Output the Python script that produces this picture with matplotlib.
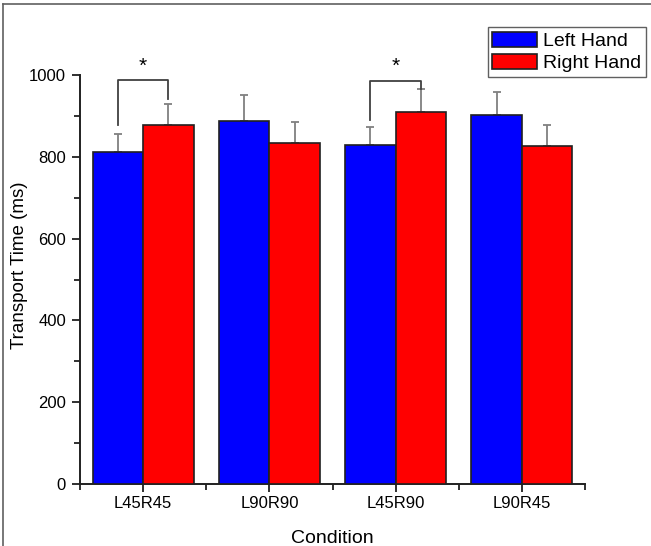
import numpy as np
import matplotlib
matplotlib.use("Agg")
import matplotlib.pyplot as plt
from matplotlib.lines import Line2D

plt.rcParams['font.family'] = ['Liberation Sans', 'DejaVu Sans']

conditions = ["L45R45", "L90R90", "L45R90", "L90R45"]
left_hand = [811, 888, 828, 901]
right_hand = [878, 834, 909, 826]
left_err = [44, 62, 44, 58]
right_err = [50, 51, 57, 51]
# significance brackets: (group index, top, left leg end, right leg end)
sig_pairs = [(0, 988, 878, 941), (2, 986, 890, 966)]

fig = plt.figure(figsize=(6.51, 5.46), dpi=100)
ax = fig.add_axes([80/651, 1-484/546, 505/651, 409/546])

x = np.arange(1, len(conditions)+1)
w = 0.4
ax.bar(x - w/2, left_hand, w, color="#0000ff", edgecolor="#202020", linewidth=1.2, label="Left Hand", zorder=3)
ax.bar(x + w/2, right_hand, w, color="#ff0000", edgecolor="#202020", linewidth=1.2, label="Right Hand", zorder=3)
ax.errorbar(x - w/2, left_hand, yerr=[np.zeros(4), left_err], fmt="none", ecolor="#808080",
            elinewidth=1.3, capsize=3, capthick=1.3, zorder=2)
ax.errorbar(x + w/2, right_hand, yerr=[np.zeros(4), right_err], fmt="none", ecolor="#808080",
            elinewidth=1.3, capsize=3, capthick=1.3, zorder=2)

for i, top, lbot, rbot in sig_pairs:
    xl, xr = x[i] - w/2, x[i] + w/2
    ax.plot([xl, xl, xr, xr], [lbot, top, top, rbot], color="#404040", lw=1.3, clip_on=False)
    ax.text(x[i], top + 34, "*", ha="center", va="center", fontsize=15, clip_on=False)

ax.set_xlim(0.5, 4.5)
ax.set_ylim(0, 1000)
ax.set_xticks(x)
ax.set_xticklabels(conditions)
ax.set_xticks([0.5, 1.5, 2.5, 3.5, 4.5], minor=True)
ax.set_yticks(np.arange(0, 1001, 200))
ax.set_yticks(np.arange(100, 1000, 200), minor=True)
ax.tick_params(axis="both", which="major", direction="out", length=6, width=1.3, labelsize=12,
               color="#202020")
ax.tick_params(axis="x", which="major", pad=3)
ax.tick_params(axis="y", which="major", pad=4)
ax.tick_params(axis="both", which="minor", direction="out", length=4, width=1.3, color="#202020")
for s in ["top", "right"]:
    ax.spines[s].set_visible(False)
for s in ["left", "bottom"]:
    ax.spines[s].set_linewidth(1.4)
    ax.spines[s].set_color("#202020")

ax.set_xlabel("Condition", fontsize=14, labelpad=13)
ax.set_ylabel("Transport Time (ms)", fontsize=13.5, va="center")
ax.yaxis.set_label_coords(-0.12, 0.535)

leg = ax.legend(loc="upper right", bbox_to_anchor=(646/651, 1-27/546), bbox_transform=fig.transFigure,
                fontsize=14, fancybox=False, framealpha=1, edgecolor="#606060",
                handlelength=2.3, handleheight=0.8, handletextpad=0.3, borderpad=0.25,
                labelspacing=0.2, borderaxespad=0)
leg.get_frame().set_linewidth(1.0)

# frame lines of the original picture
fig.add_artist(Line2D([3/651, 3/651], [0, 1-4/546], transform=fig.transFigure, color="#606060", lw=1.2))
fig.add_artist(Line2D([3/651, 1], [1-4/546, 1-4/546], transform=fig.transFigure, color="#606060", lw=1.2))

fig.savefig("out.png", dpi=100)
